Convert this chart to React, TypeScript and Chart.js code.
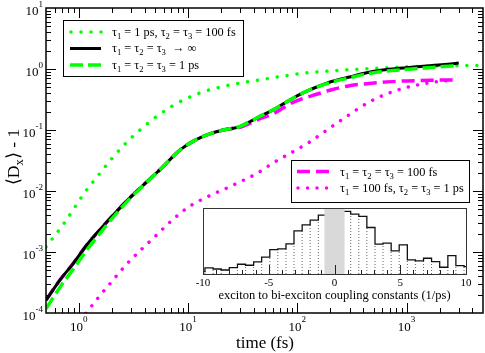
import React, { useEffect, useRef } from "react";
import { Chart, registerables } from "chart.js";

Chart.register(...registerables);

const SERIF = '"Liberation Serif", "Times New Roman", Times, serif';

// ---------- main panel: time (fs) vs <Dx> - 1 ----------
const timeMain = [0.5, 0.67, 0.89, 1.18, 1.6, 2.2, 3, 4.2, 5.7, 8.4, 11.5, 16, 21, 26, 30, 37, 46, 60, 85, 110, 150, 210, 300, 430, 600, 850, 1250, 1800, 2400, 3000];
const infValues = [1.62e-4, 3.47e-4, 6.53e-4, 1.3e-3, 2.45e-3, 4.58e-3, 8.07e-3, 0.0142, 0.0236, 0.0468, 0.0676, 0.0871, 0.1, 0.107, 0.115, 0.138, 0.17, 0.214, 0.309, 0.398, 0.507, 0.631, 0.74, 0.871, 0.964, 1.028, 1.084, 1.148, 1.202, 1.253];
const allOnePsValues = [1.17e-4, 2.63e-4, 5.25e-4, 1.07e-3, 2.14e-3, 4.27e-3, 7.85e-3, 0.014, 0.0236, 0.0468, 0.0676, 0.0871, 0.1, 0.107, 0.115, 0.138, 0.17, 0.214, 0.309, 0.398, 0.505, 0.617, 0.716, 0.832, 0.912, 0.966, 1.019, 1.072, 1.114, 1.148];
const all100fsValues = [1.62e-4, 3.47e-4, 6.53e-4, 1.3e-3, 2.45e-3, 4.58e-3, 8.07e-3, 0.0142, 0.0236, 0.0468, 0.0676, 0.0871, 0.1, 0.107, 0.111, 0.129, 0.155, 0.184, 0.267, 0.324, 0.385, 0.462, 0.532, 0.575, 0.605, 0.631, 0.646, 0.655, 0.661, 0.664];

const timeT1ps = [0.5, 0.75, 1.08, 1.6, 2.5, 4.1, 7, 12.6, 24, 45, 112, 270, 670, 1700, 4500];
const t1psValues = [1.21e-3, 3.14e-3, 8.38e-3, 0.0207, 0.0532, 0.121, 0.241, 0.4, 0.547, 0.661, 0.851, 0.964, 1.05, 1.12, 1.14];

const timeT100fs = [1.16, 1.53, 2.06, 2.73, 3.75, 5.14, 7.05, 10, 14.7, 22.4, 34, 42, 60, 125, 253, 460, 830, 1560, 2640];
const t100fsValues = [9.9e-5, 1.85e-4, 3.48e-4, 6.28e-4, 1.11e-3, 1.9e-3, 3.26e-3, 5.41e-3, 7.89e-3, 0.0111, 0.0158, 0.0191, 0.0288, 0.0612, 0.146, 0.291, 0.453, 0.589, 0.661];

const xMajorTicks = [1, 10, 100, 1000];
const xTickLabels = ["10^0", "10^1", "10^2", "10^3"];
const yMajorTicks = [1e-4, 1e-3, 1e-2, 1e-1, 1, 10];
const yTickLabels = ["10^{-4}", "10^{-3}", "10^{-2}", "10^{-1}", "10^0", "10^1"];

const legendTopLabels = ["τ_1 = 1 ps, τ_2 = τ_3 = 100 fs", "τ_1 = τ_2 = τ_3  → ∞", "τ_1 = τ_2 = τ_3 = 1 ps"];
const legendBottomLabels = ["τ_1 = τ_2 = τ_3 = 100 fs", "τ_1 = 100 fs, τ_2 = τ_3 = 1 ps"];

// ---------- inset: histogram of coupling constants ----------
const binEdges = [-10, -9.85, -9.23, -8.62, -8.0, -7.38, -6.77, -6.15, -5.54, -4.92, -4.31, -3.69, -3.08, -2.46, -1.85, -1.23, -0.62, 0, 0.62, 1.23, 1.85, 2.46, 3.08, 3.69, 4.31, 4.92, 5.54, 6.15, 6.77, 7.38, 8.0, 8.62, 9.23, 9.85, 10];
const binCounts = [2.3, 6, 5, 4, 6.3, 9.7, 8.7, 12, 16.7, 24.3, 25, 30, 43, 49, 53.7, 58.7, 63, 63, 62.3, 59.7, 57.3, 46.3, 29.7, 30.7, 23, 29, 14, 13, 15.7, 12.3, 6.7, 18.3, 8.3, 7.3];
const excludedBand = [-0.78, 0.78];
const insetTickValues = [-10, -5, 0, 5, 10];
const insetTickLabels = ["-10", "-5", "0", "5", "10"];

const GREEN = "#00ff00";
const MAGENTA = "#ff00ff";

type Seg = { s: string; k: number };
function parseRich(t: string): Seg[] {
  const out: Seg[] = [];
  let buf = "";
  for (let i = 0; i < t.length; i++) {
    const c = t[i];
    if (c === "_" || c === "^") {
      if (buf) { out.push({ s: buf, k: 0 }); buf = ""; }
      let s = "";
      if (t[i + 1] === "{") { const e = t.indexOf("}", i + 1); s = t.slice(i + 2, e); i = e; }
      else { s = t[i + 1]; i = i + 1; }
      out.push({ s, k: c === "^" ? 1 : -1 });
    } else buf += c;
  }
  if (buf) out.push({ s: buf, k: 0 });
  return out;
}

function drawRich(ctx: CanvasRenderingContext2D, text: string, x: number, y: number, size: number, align: string, supDy = 0.55, subDy = 0.25, small = 0.7) {
  const segs = parseRich(text);
  const widths = segs.map((sg) => {
    ctx.font = `${sg.k ? size * small : size}px ${SERIF}`;
    return ctx.measureText(sg.s).width;
  });
  const total = widths.reduce((a, b) => a + b, 0);
  let cx = align === "left" ? x : align === "center" ? x - total / 2 : x - total;
  ctx.textAlign = "left";
  ctx.textBaseline = "alphabetic";
  segs.forEach((sg, i) => {
    ctx.font = `${sg.k ? size * small : size}px ${SERIF}`;
    const dy = sg.k === 1 ? -size * supDy : sg.k === -1 ? size * subDy : 0;
    ctx.fillText(sg.s, cx, y + dy);
    cx += widths[i];
  });
}

const STYLE: Record<string, any> = {
  t1ps: { color: GREEN, width: 3.5, dash: [0.01, 10], cap: "round" },
  inf: { color: "#000", width: 3, dash: [], cap: "butt" },
  one: { color: GREEN, width: 3.5, dash: [13, 5], cap: "butt" },
  hund: { color: MAGENTA, width: 3.5, dash: [13, 6], cap: "butt" },
  t100: { color: MAGENTA, width: 3.5, dash: [0.01, 9.5], cap: "round" },
};

function sample(ctx: CanvasRenderingContext2D, x1: number, x2: number, y: number, st: any) {
  ctx.save();
  ctx.strokeStyle = st.color;
  ctx.lineWidth = st.width;
  ctx.setLineDash(st.dash);
  ctx.lineCap = st.cap;
  ctx.beginPath();
  ctx.moveTo(x1, y);
  ctx.lineTo(x2, y);
  ctx.stroke();
  ctx.restore();
}

function line(ctx: CanvasRenderingContext2D, x1: number, y1: number, x2: number, y2: number) {
  ctx.beginPath();
  ctx.moveTo(x1, y1);
  ctx.lineTo(x2, y2);
  ctx.stroke();
}

function series(ts: number[], vs: number[], st: any, order: number) {
  return {
    data: ts.map((t, i) => ({ x: t, y: vs[i] })),
    borderColor: st.color,
    borderWidth: st.width,
    borderDash: st.dash,
    borderCapStyle: st.cap,
    borderJoinStyle: "round",
    cubicInterpolationMode: "monotone",
    pointRadius: 0,
    fill: false,
    order,
  };
}

const mainDecor = {
  id: "mainDecor",
  afterDraw(chart: any) {
    const { ctx, chartArea: a, scales } = chart;
    const xs = scales.x;
    const ys = scales.y;
    ctx.save();
    ctx.strokeStyle = "#000";
    ctx.fillStyle = "#000";
    ctx.lineWidth = 1;
    ctx.setLineDash([]);
    const xMin = xs.min, xMax = xs.max, yMin = ys.min, yMax = ys.max;
    const xTicks: [number, number][] = [];
    [0.1, 1, 10, 100, 1000].forEach((d) => {
      for (let m = 1; m <= 9; m++) {
        const v = m * d;
        if (v > xMin * 1.0001 && v < xMax * 0.9999) xTicks.push([v, m === 1 ? 10 : 5]);
      }
    });
    xTicks.forEach(([v, len]) => {
      const px = Math.round(xs.getPixelForValue(v)) + 0.5;
      line(ctx, px, a.bottom, px, a.bottom - len);
      line(ctx, px, a.top, px, a.top + len);
    });
    const yTicks: [number, number][] = [];
    [1e-4, 1e-3, 1e-2, 1e-1, 1].forEach((d) => {
      for (let m = 1; m <= 9; m++) {
        const v = m * d;
        if (v > yMin * 1.0001 && v < yMax * 0.9999) yTicks.push([v, m === 1 ? 10 : 5]);
      }
    });
    yTicks.forEach(([v, len]) => {
      const py = Math.round(ys.getPixelForValue(v)) + 0.5;
      line(ctx, a.left, py, a.left + len, py);
      line(ctx, a.right, py, a.right - len, py);
    });
    ctx.lineWidth = 1.5;
    ctx.strokeRect(a.left, a.top, a.right - a.left, a.bottom - a.top);

    // tick labels
    xMajorTicks.forEach((v, i) => {
      const px = xs.getPixelForValue(v);
      drawRich(ctx, xTickLabels[i], px, a.bottom + 18, 13, "center", 0.72, 0.25, 0.7);
    });
    yMajorTicks.forEach((v, i) => {
      const py = ys.getPixelForValue(v);
      drawRich(ctx, yTickLabels[i], a.left - 3, py + 7, 13, "right", 0.6, 0.25, 0.7);
    });

    // axis titles
    drawRich(ctx, "time (fs)", 265, 348, 17, "center");
    ctx.save();
    ctx.translate(19, 157);
    ctx.rotate(-Math.PI / 2);
    drawRich(ctx, "⟨D_x⟩ - 1", 0, 0, 17.5, "center", 0.5, 0.25, 0.72);
    ctx.restore();

    // legend boxes
    const box = (x: number, y: number, w: number, h: number) => {
      ctx.fillStyle = "#fff";
      ctx.fillRect(x, y, w, h);
      ctx.strokeStyle = "#000";
      ctx.lineWidth = 1;
      ctx.strokeRect(x + 0.5, y + 0.5, w, h);
      ctx.fillStyle = "#000";
    };
    box(63, 20, 180, 56);
    sample(ctx, 71, 101.5, 32, STYLE.t1ps);
    sample(ctx, 70, 101, 48.5, STYLE.inf);
    sample(ctx, 70, 101, 65, STYLE.one);
    [35.5, 52, 68.5].forEach((by, i) => drawRich(ctx, legendTopLabels[i], 112, by, 12.3, "left"));

    box(291, 160, 178, 42);
    sample(ctx, 297, 330, 171.5, STYLE.hund);
    sample(ctx, 298, 330, 188, STYLE.t100);
    [175.5, 192].forEach((by, i) => drawRich(ctx, legendBottomLabels[i], 340, by, 12.3, "left"));
    ctx.restore();
  },
};

const insetDecor = {
  id: "insetDecor",
  beforeDatasetsDraw(chart: any) {
    const { ctx, chartArea: a } = chart;
    ctx.save();
    ctx.fillStyle = "#fff";
    ctx.fillRect(a.left, a.top, a.right - a.left, a.bottom - a.top);
    ctx.restore();
  },
  afterDatasetsDraw(chart: any) {
    const { ctx, chartArea: a, scales } = chart;
    const xs = scales.x;
    ctx.save();
    ctx.strokeStyle = "#222";
    ctx.lineWidth = 1;
    for (let v = -9; v <= 9; v++) {
      const px = Math.round(xs.getPixelForValue(v)) + 0.5;
      line(ctx, px, a.bottom, px, a.bottom - (v % 5 === 0 ? 9 : 4));
    }
    ctx.strokeStyle = "#333";
    ctx.strokeRect(a.left + 0.5, a.top + 0.5, a.right - a.left, a.bottom - a.top);
    ctx.fillStyle = "#000";
    insetTickValues.forEach((v, i) => {
      drawRich(ctx, insetTickLabels[i], xs.getPixelForValue(v), a.bottom + 12, 11, "center");
    });
    drawRich(ctx, "exciton to bi-exciton coupling constants (1/ps)", (a.left + a.right) / 2, a.bottom + 25, 12.5, "center");
    ctx.restore();
  },
};

export default function App() {
  const mainRef = useRef<HTMLCanvasElement>(null);
  const insetRef = useRef<HTMLCanvasElement>(null);

  useEffect(() => {
    const main = new Chart(mainRef.current as HTMLCanvasElement, {
      type: "line",
      data: {
        datasets: [
          series(timeMain, allOnePsValues, STYLE.one, 0),
          series(timeMain, infValues, STYLE.inf, 1),
          series(timeT1ps, t1psValues, STYLE.t1ps, 2),
          series(timeT100fs, t100fsValues, STYLE.t100, 3),
          series(timeMain, all100fsValues, STYLE.hund, 4),
        ] as any,
      },
      options: {
        responsive: false,
        animation: false,
        devicePixelRatio: 1,
        layout: { padding: { left: 46, top: 8, right: 2, bottom: 40 } },
        scales: {
          x: { type: "logarithmic", min: 0.5, max: 5000, display: false },
          y: { type: "logarithmic", min: 1e-4, max: 10, display: false },
        },
        plugins: { legend: { display: false }, tooltip: { enabled: false } },
        events: [],
      } as any,
      plugins: [mainDecor],
    });

    const outline = [{ x: binEdges[0], y: 0 }]
      .concat(binCounts.map((c, i) => ({ x: binEdges[i], y: c })))
      .concat([{ x: binEdges[binEdges.length - 1], y: binCounts[binCounts.length - 1] }]);
    const drops: any[] = [];
    for (let i = 1; i < binCounts.length; i++) {
      const h = Math.min(binCounts[i - 1], binCounts[i]);
      drops.push({ x: binEdges[i], y: 0 }, { x: binEdges[i], y: h }, { x: binEdges[i], y: null });
    }

    const inset = new Chart(insetRef.current as HTMLCanvasElement, {
      type: "line",
      data: {
        datasets: [
          {
            data: [{ x: excludedBand[0], y: 65.7 }, { x: excludedBand[1], y: 65.7 }],
            borderWidth: 0,
            backgroundColor: "#d9d9d9",
            fill: "start",
            pointRadius: 0,
            order: 0,
          },
          {
            data: outline,
            stepped: "before",
            borderColor: "#111",
            borderWidth: 1.3,
            pointRadius: 0,
            fill: false,
            order: 1,
          },
          {
            data: drops,
            borderColor: "#666",
            borderWidth: 1,
            borderDash: [1, 2],
            spanGaps: false,
            pointRadius: 0,
            fill: false,
            order: 2,
          },
        ] as any,
      },
      options: {
        responsive: false,
        animation: false,
        devicePixelRatio: 1,
        layout: { padding: { left: 13, top: 8, right: 14, bottom: 34 } },
        scales: {
          x: { type: "linear", min: -10, max: 10, display: false },
          y: { type: "linear", min: 0, max: 65.7, display: false },
        },
        plugins: { legend: { display: false }, tooltip: { enabled: false } },
        events: [],
      } as any,
      plugins: [insetDecor],
    });

    return () => {
      main.destroy();
      inset.destroy();
    };
  }, []);

  return (
    <div style={{ position: "absolute", left: 0, top: 0, width: 485, height: 353, background: "#fff" }}>
      <canvas ref={mainRef} width={485} height={353} style={{ position: "absolute", left: 0, top: 0, width: 485, height: 353 }} />
      <canvas ref={insetRef} width={290} height={108} style={{ position: "absolute", left: 190, top: 200, width: 290, height: 108 }} />
    </div>
  );
}
